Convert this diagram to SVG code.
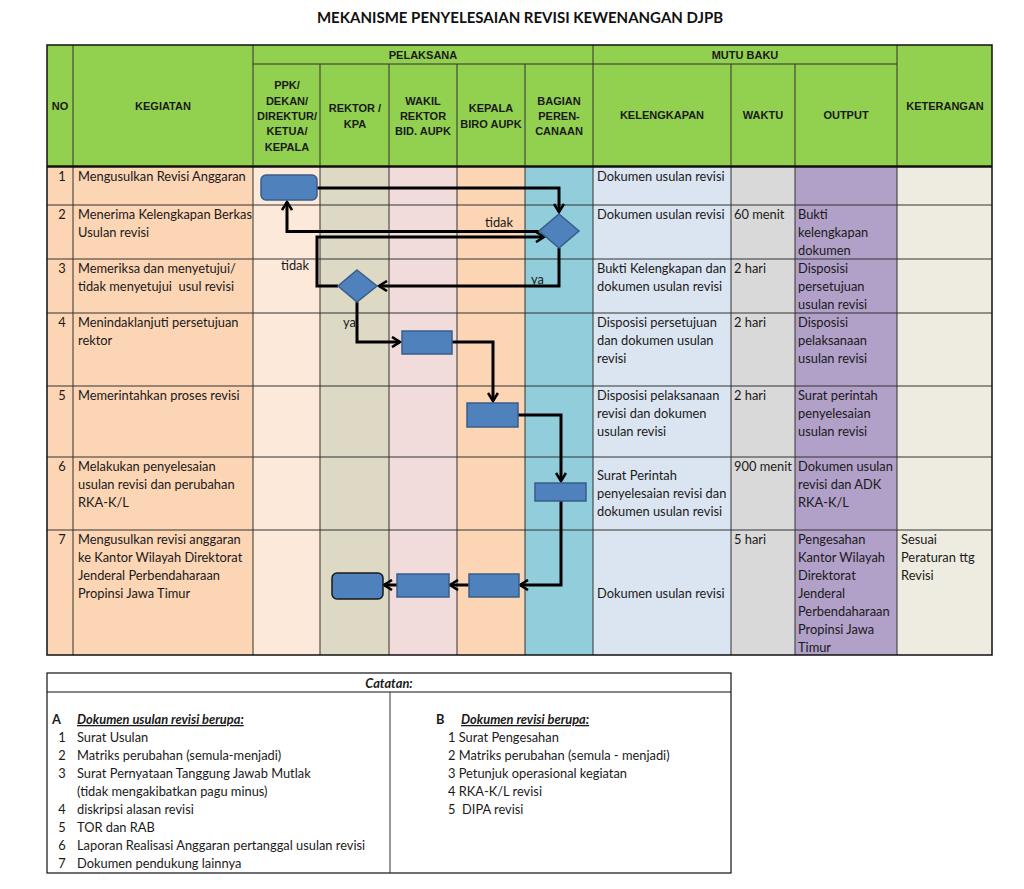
<svg xmlns="http://www.w3.org/2000/svg" width="1024" height="889" viewBox="0 0 1024 889">
<defs>
<style>
.t{font-family:Lato,"Open Sans","Liberation Sans",sans-serif;font-size:12.85px;fill:#1a1a1a}
.h{font-family:"Liberation Sans",Arial,sans-serif;font-size:11px;font-weight:bold;fill:#1a1a1a;text-anchor:middle}
.ttl{font-family:Lato,"Open Sans","Liberation Sans",sans-serif;font-size:15px;font-weight:bold;fill:#111;text-anchor:middle}
.c{text-anchor:middle}
.grid{stroke:#333;stroke-width:1;fill:none}
.box{fill:#4F81BD;stroke:#385D8A;stroke-width:1.5}
.con{fill:none;stroke:#000;stroke-width:3;stroke-linejoin:miter}
.bi{font-weight:bold;font-style:italic}
</style>
<marker id="ah" viewBox="0 0 12 12" refX="10" refY="6" markerWidth="12" markerHeight="12" markerUnits="userSpaceOnUse" orient="auto">
<path d="M2,1 L10,6 L2,11" fill="none" stroke="#000" stroke-width="2.6"/>
</marker>
</defs>
<rect width="1024" height="889" fill="#fff"/>
<text class="ttl" x="520" y="23">MEKANISME PENYELESAIAN REVISI KEWENANGAN DJPB</text>

<!-- header -->
<g id="header">
<rect x="47" y="45" width="945" height="122" fill="#92D050"/>
<text class="h" x="60" y="110">NO</text>
<text class="h" x="163" y="110">KEGIATAN</text>
<text class="h" x="423" y="59">PELAKSANA</text>
<text class="h" x="745" y="59">MUTU BAKU</text>
<text class="h" x="287" y="89">PPK/</text>
<text class="h" x="287" y="105">DEKAN/</text>
<text class="h" x="287" y="120">DIREKTUR/</text>
<text class="h" x="287" y="135">KETUA/</text>
<text class="h" x="287" y="151">KEPALA</text>
<text class="h" x="355" y="112">REKTOR /</text>
<text class="h" x="355" y="128">KPA</text>
<text class="h" x="423" y="105">WAKIL</text>
<text class="h" x="423" y="120">REKTOR</text>
<text class="h" x="423" y="135">BID. AUPK</text>
<text class="h" x="491" y="112">KEPALA</text>
<text class="h" x="491" y="128">BIRO AUPK</text>
<text class="h" x="559" y="105">BAGIAN</text>
<text class="h" x="559" y="120">PEREN-</text>
<text class="h" x="559" y="135">CANAAN</text>
<text class="h" x="662" y="119">KELENGKAPAN</text>
<text class="h" x="763" y="119">WAKTU</text>
<text class="h" x="846" y="119">OUTPUT</text>
<text class="h" x="945" y="110">KETERANGAN</text>
</g>

<!-- body column fills -->
<g id="columns">
<rect x="47" y="167" width="206" height="488" fill="#FCD5B4"/>
<rect x="253" y="167" width="67" height="488" fill="#FDE9D9"/>
<rect x="320" y="167" width="69" height="488" fill="#DDD9C4"/>
<rect x="389" y="167" width="68" height="488" fill="#F2DCDB"/>
<rect x="457" y="167" width="68" height="488" fill="#FCD5B4"/>
<rect x="525" y="167" width="68" height="488" fill="#92CDDC"/>
<rect x="593" y="167" width="138" height="488" fill="#DBE5F1"/>
<rect x="731" y="167" width="64" height="488" fill="#D9D9D9"/>
<rect x="795" y="167" width="102" height="488" fill="#B1A0C7"/>
<rect x="897" y="167" width="95" height="488" fill="#EEECE1"/>
</g>

<!-- grid -->
<g id="grid" class="grid">
<line x1="253" y1="64" x2="897" y2="64"/>
<line x1="73" y1="45" x2="73" y2="655"/>
<line x1="253" y1="45" x2="253" y2="655"/>
<line x1="320" y1="64" x2="320" y2="655"/>
<line x1="389" y1="64" x2="389" y2="655"/>
<line x1="457" y1="64" x2="457" y2="655"/>
<line x1="525" y1="64" x2="525" y2="655"/>
<line x1="593" y1="45" x2="593" y2="655"/>
<line x1="731" y1="64" x2="731" y2="655"/>
<line x1="795" y1="64" x2="795" y2="655"/>
<line x1="897" y1="45" x2="897" y2="655"/>
<line x1="47" y1="205" x2="992" y2="205"/>
<line x1="47" y1="259" x2="992" y2="259"/>
<line x1="47" y1="313" x2="992" y2="313"/>
<line x1="47" y1="386" x2="992" y2="386"/>
<line x1="47" y1="457" x2="992" y2="457"/>
<line x1="47" y1="530" x2="992" y2="530"/>
<line x1="47" y1="166.5" x2="992" y2="166.5" stroke="#111" stroke-width="2.5"/>
<rect x="47" y="45" width="945" height="610" stroke="#111" stroke-width="1.5"/>
</g>

<!-- row texts -->
<g id="rows" class="t">
<text class="t c" x="62" y="180.5">1</text>
<text class="t" x="78" y="180.5">Mengusulkan Revisi Anggaran</text>
<text class="t c" x="62" y="218.5">2</text>
<text class="t" x="78" y="218.5">Menerima Kelengkapan Berkas</text>
<text class="t" x="78" y="236.5">Usulan revisi</text>
<text class="t c" x="62" y="272.5">3</text>
<text class="t" x="78" y="272.5">Memeriksa dan menyetujui/</text>
<text class="t" x="78" y="290.5">tidak menyetujui&#160; usul revisi</text>
<text class="t c" x="62" y="326.5">4</text>
<text class="t" x="78" y="326.5">Menindaklanjuti persetujuan</text>
<text class="t" x="78" y="344.5">rektor</text>
<text class="t c" x="62" y="399.5">5</text>
<text class="t" x="78" y="399.5">Memerintahkan proses revisi</text>
<text class="t c" x="62" y="470.5">6</text>
<text class="t" x="78" y="470.5">Melakukan penyelesaian</text>
<text class="t" x="78" y="488.5">usulan revisi dan perubahan</text>
<text class="t" x="78" y="506.5">RKA-K/L</text>
<text class="t c" x="62" y="543.5">7</text>
<text class="t" x="78" y="543.5">Mengusulkan revisi anggaran</text>
<text class="t" x="78" y="561.5">ke Kantor Wilayah Direktorat</text>
<text class="t" x="78" y="579.5">Jenderal Perbendaharaan</text>
<text class="t" x="78" y="597.5">Propinsi Jawa Timur</text>

<text class="t" x="597" y="180.5">Dokumen usulan revisi</text>
<text class="t" x="597" y="218.5">Dokumen usulan revisi</text>
<text class="t" x="597" y="272.5">Bukti Kelengkapan dan</text>
<text class="t" x="597" y="290.5">dokumen usulan revisi</text>
<text class="t" x="597" y="326.5">Disposisi persetujuan</text>
<text class="t" x="597" y="344.5">dan dokumen usulan</text>
<text class="t" x="597" y="362.5">revisi</text>
<text class="t" x="597" y="399.5">Disposisi pelaksanaan</text>
<text class="t" x="597" y="417.5">revisi dan dokumen</text>
<text class="t" x="597" y="435.5">usulan revisi</text>
<text class="t" x="597" y="479.5">Surat Perintah</text>
<text class="t" x="597" y="497.5">penyelesaian revisi dan</text>
<text class="t" x="597" y="515.5">dokumen usulan revisi</text>
<text class="t" x="597" y="597.5">Dokumen usulan revisi</text>

<text class="t" x="734" y="218.5">60 menit</text>
<text class="t" x="734" y="272.5">2 hari</text>
<text class="t" x="734" y="326.5">2 hari</text>
<text class="t" x="734" y="399.5">2 hari</text>
<text class="t" x="734" y="470.5">900 menit</text>
<text class="t" x="734" y="543.5">5 hari</text>

<text class="t" x="798" y="218.5">Bukti</text>
<text class="t" x="798" y="236.5">kelengkapan</text>
<text class="t" x="798" y="254.5">dokumen</text>
<text class="t" x="798" y="272.5">Disposisi</text>
<text class="t" x="798" y="290.5">persetujuan</text>
<text class="t" x="798" y="308.5">usulan revisi</text>
<text class="t" x="798" y="326.5">Disposisi</text>
<text class="t" x="798" y="344.5">pelaksanaan</text>
<text class="t" x="798" y="362.5">usulan revisi</text>
<text class="t" x="798" y="399.5">Surat perintah</text>
<text class="t" x="798" y="417.5">penyelesaian</text>
<text class="t" x="798" y="435.5">usulan revisi</text>
<text class="t" x="798" y="470.5">Dokumen usulan</text>
<text class="t" x="798" y="488.5">revisi dan ADK</text>
<text class="t" x="798" y="506.5">RKA-K/L</text>
<text class="t" x="798" y="543.5">Pengesahan</text>
<text class="t" x="798" y="561.5">Kantor Wilayah</text>
<text class="t" x="798" y="579.5">Direktorat</text>
<text class="t" x="798" y="597.5">Jenderal</text>
<text class="t" x="798" y="615.5">Perbendaharaan</text>
<text class="t" x="798" y="633.5">Propinsi Jawa</text>
<text class="t" x="798" y="651.5">Timur</text>

<text class="t" x="901" y="543.5">Sesuai</text>
<text class="t" x="901" y="561.5">Peraturan ttg</text>
<text class="t" x="901" y="579.5">Revisi</text>
</g>

<!-- connectors -->
<g id="connectors">
<path class="con" d="M317,188 H559 V212" marker-end="url(#ah)"/>
<path class="con" d="M539,231.5 H287 V202" marker-end="url(#ah)"/>
<path class="con" d="M338,286 H317 V237 H544" marker-end="url(#ah)"/>
<path class="con" d="M559,248 V286 H379" marker-end="url(#ah)"/>
<path class="con" d="M357,302 V342 H400" marker-end="url(#ah)"/>
<path class="con" d="M452,342 H493 V401" marker-end="url(#ah)"/>
<path class="con" d="M518,415 H561 V481" marker-end="url(#ah)"/>
<path class="con" d="M561,501 V585 H520" marker-end="url(#ah)"/>
<path class="con" d="M469,585 H450" marker-end="url(#ah)"/>
<path class="con" d="M397,585 H384" marker-end="url(#ah)"/>
<text class="t" x="485" y="227">tidak</text>
<text class="t" x="281" y="270">tidak</text>
<text class="t" x="531" y="284">ya</text>
<text class="t" x="343" y="327">ya</text>
</g>

<!-- nodes -->
<g id="n1"><rect class="box" x="261" y="175" width="56" height="25" rx="5"/></g>
<g id="d2"><polygon class="box" points="559,214 579,231 559,248 539,231"/></g>
<g id="d3"><polygon class="box" points="357,270 377,286 357,302 338,286"/></g>
<g id="n4"><rect class="box" x="402" y="331" width="50" height="23"/></g>
<g id="n5"><rect class="box" x="467" y="403" width="51" height="24"/></g>
<g id="n6"><rect class="box" x="535" y="483" width="51" height="18"/></g>
<g id="n7a"><rect class="box" x="469" y="574" width="50" height="23"/></g>
<g id="n7b"><rect class="box" x="397" y="574" width="52" height="23"/></g>
<g id="n7c"><rect x="332" y="573" width="51" height="26" rx="5" fill="#4F81BD" stroke="#1a1a1a" stroke-width="1.5"/></g>

<!-- notes -->
<g id="notes">
<rect x="47" y="673" width="684" height="200" fill="#fff" stroke="#111" stroke-width="1.2"/>
<line x1="47" y1="692" x2="731" y2="692" stroke="#111" stroke-width="1.2"/>
<line x1="390" y1="692" x2="390" y2="873" stroke="#333" stroke-width="1"/>
<text class="t bi c" x="389" y="688">Catatan:</text>
<text class="t" x="52" y="724" font-weight="bold">A</text>
<text class="t bi" x="77" y="724" text-decoration="underline">Dokumen usulan revisi berupa:</text>
<text class="t c" x="62" y="742">1</text><text class="t" x="77" y="742">Surat Usulan</text>
<text class="t c" x="62" y="760">2</text><text class="t" x="77" y="760">Matriks perubahan (semula-menjadi)</text>
<text class="t c" x="62" y="778">3</text><text class="t" x="77" y="778">Surat Pernyataan Tanggung Jawab Mutlak</text>
<text class="t" x="77" y="796">(tidak mengakibatkan pagu minus)</text>
<text class="t c" x="62" y="814">4</text><text class="t" x="77" y="814">diskripsi alasan revisi</text>
<text class="t c" x="62" y="832">5</text><text class="t" x="77" y="832">TOR dan RAB</text>
<text class="t c" x="62" y="850">6</text><text class="t" x="77" y="850">Laporan Realisasi Anggaran pertanggal usulan revisi</text>
<text class="t c" x="62" y="868">7</text><text class="t" x="77" y="868">Dokumen pendukung lainnya</text>
<text class="t" x="436" y="724" font-weight="bold">B</text>
<text class="t bi" x="461" y="724" text-decoration="underline">Dokumen revisi berupa:</text>
<text class="t" x="448" y="742">1 Surat Pengesahan</text>
<text class="t" x="448" y="760">2 Matriks perubahan (semula - menjadi)</text>
<text class="t" x="448" y="778">3 Petunjuk operasional kegiatan</text>
<text class="t" x="448" y="796">4 RKA-K/L revisi</text>
<text class="t" x="448" y="814">5&#160; DIPA revisi</text>
</g>
</svg>
